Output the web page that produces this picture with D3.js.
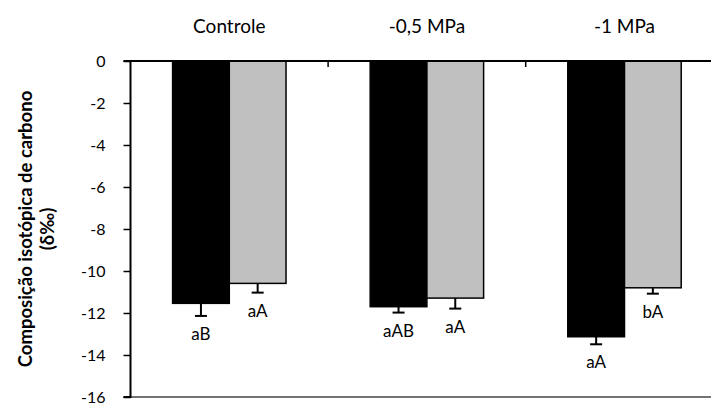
<!DOCTYPE html>
<html>
<head>
<meta charset="utf-8">
<script src="https://cdn.jsdelivr.net/npm/d3@7"></script>
<style>
  body { margin: 0; background: #fff; }
  svg text { font-family: Lato, "Open Sans", sans-serif; fill: #000; }
</style>
</head>
<body>
<svg id="canvas" width="711" height="403"></svg>
<script>
// treatments (shown along the top) and the two series
var categories = ["Controle", "-0,5 MPa", "-1 MPa"];
var seriesNames = ["s1", "s2"];
var meansBlack = [-11.54, -11.70, -13.13];
var errBlack = [0.60, 0.28, 0.36];
var meansGray = [-10.59, -11.29, -10.80];
var errGray = [0.44, 0.50, 0.28];
var lettersBlack = ["aB", "aAB", "aA"];
var lettersGray = ["aA", "aA", "bA"];
var yTicks = [0, -2, -4, -6, -8, -10, -12, -14, -16];

var svg = d3.select("#canvas");
// plot area runs past the right edge of the picture (it was cropped)
var plotLeft = 130.5, plotTop = 61, plotBottom = 397, plotRight = 723.3;

var y = d3.scaleLinear().domain([0, -16]).range([plotTop, plotBottom]);
var x = d3.scaleBand().domain(categories).range([plotLeft, plotRight]).paddingInner(0).paddingOuter(0);
var xs = d3.scaleBand().domain(seriesNames).range([0, x.bandwidth()]).paddingOuter(0.742).paddingInner(0);

var series = [
    {key: "s1", means: meansBlack, err: errBlack, letters: lettersBlack, fill: "#000000"},
    {key: "s2", means: meansGray, err: errGray, letters: lettersGray, fill: "#c0c0c0"}
];

// bottom frame line
svg.append("line")
    .attr("x1", plotLeft).attr("x2", 711)
    .attr("y1", y(-16)).attr("y2", y(-16))
    .attr("stroke", "#444").attr("stroke-width", 1.5);

// bars
series.forEach(function(s){
    var g = svg.append("g");
    categories.forEach(function(c, i){
        var bx = x(c) + xs(s.key);
        var bw = xs.bandwidth();
        g.append("rect")
            .attr("x", bx)
            .attr("y", y(0))
            .attr("width", bw)
            .attr("height", y(s.means[i]) - y(0))
            .attr("fill", s.fill)
            .attr("stroke", "#000")
            .attr("stroke-width", 1.5);

        // error bar, downward only
        var cx = bx + bw / 2;
        var yEnd = y(s.means[i] - s.err[i]);
        g.append("line")
            .attr("x1", cx).attr("x2", cx)
            .attr("y1", y(s.means[i])).attr("y2", yEnd)
            .attr("stroke", "#000").attr("stroke-width", 2);
        g.append("line")
            .attr("x1", cx - 6).attr("x2", cx + 6)
            .attr("y1", yEnd).attr("y2", yEnd)
            .attr("stroke", "#000").attr("stroke-width", 2);

        g.append("text")
            .attr("x", cx)
            .attr("y", yEnd + 24)
            .attr("text-anchor", "middle")
            .style("font-size", "17px")
            .text(s.letters[i]);
    });
});

// left axis
var yAxis = d3.axisLeft(y).tickValues(yTicks).tickSize(7).tickPadding(18)
    .tickFormat(function(d){ return String(d); });
var ga = svg.append("g").attr("transform", "translate(" + plotLeft + ",0)").call(yAxis);
ga.select(".domain").attr("stroke", "#000").attr("stroke-width", 2).attr("d", "M-7," + y(-16) + "H0V" + y(0));
ga.selectAll(".tick line").attr("stroke", "#000").attr("stroke-width", 1.5);
ga.selectAll(".tick text").style("font-size", "16px").style("font-family", "Lato, sans-serif");

// top axis at zero, with ticks between categories
svg.append("line")
    .attr("x1", plotLeft - 7).attr("x2", 711)
    .attr("y1", y(0)).attr("y2", y(0))
    .attr("stroke", "#000").attr("stroke-width", 2);
categories.slice(1).forEach(function(c){
    svg.append("line")
        .attr("x1", x(c)).attr("x2", x(c))
        .attr("y1", y(0)).attr("y2", y(0) + 6)
        .attr("stroke", "#000").attr("stroke-width", 1.5);
});

// category captions above the chart
categories.forEach(function(c){
    svg.append("text")
        .attr("x", x(c) + x.bandwidth() / 2)
        .attr("y", 33)
        .attr("text-anchor", "middle")
        .style("font-size", "19px")
        .text(c);
});

// y title
var title = svg.append("text")
    .attr("transform", "translate(32," + ((plotTop + plotBottom) / 2) + ") rotate(-90)")
    .attr("text-anchor", "middle")
    .style("font-size", "18.5px")
    .style("font-weight", "bold");
title.append("tspan").attr("x", 0).attr("dy", 0).text("Composição isotópica de carbono");
title.append("tspan").attr("x", 0).attr("dy", 22).text("(δ‰)");
</script>
</body>
</html>
